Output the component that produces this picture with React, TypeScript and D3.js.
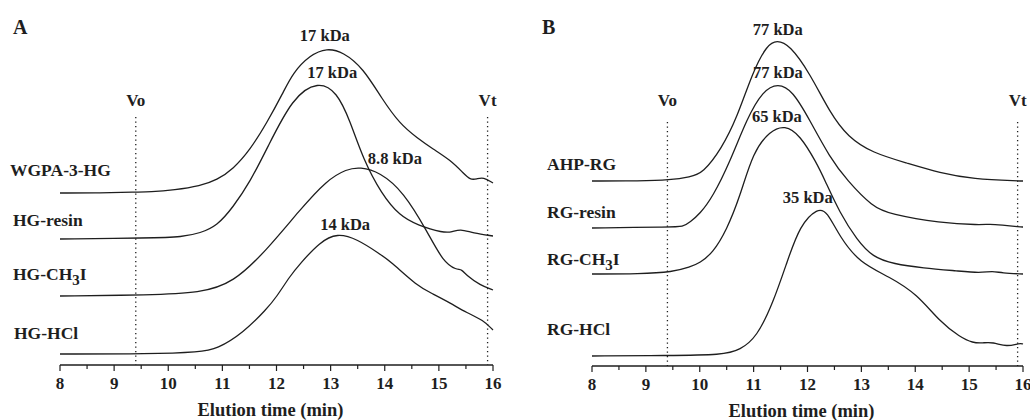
import React from "react";
import * as d3 from "d3";

// elution profiles, [time (min), detector response]
const wgpa3hg: [number, number][] = [
  [8, 0], [8.75, 0], [9.4, 1], [9.66, 1], [10.12, 3], [10.59, 7], [10.9, 13],
  [11.2, 24], [11.51, 43], [11.82, 70], [12.12, 100], [12.3, 120], [12.62, 138],
  [12.93, 145], [13.23, 141], [13.6, 125], [13.95, 94], [14.28, 69], [14.6, 55],
  [14.89, 44], [15.21, 33], [15.45, 20], [15.58, 13], [15.7, 14], [15.82, 16], [16, 10],
];
const hgResin: [number, number][] = [
  [8, 0], [9.66, 1], [10.27, 2], [10.59, 6], [10.9, 13], [11.2, 32], [11.51, 57],
  [11.82, 90], [12.3, 142], [12.77, 158], [13.12, 147], [13.36, 118], [13.6, 80],
  [13.94, 45], [14.28, 23], [14.6, 14], [15.08, 6], [15.25, 7], [15.39, 10],
  [15.63, 6], [16, 3],
];
const hgCH3I: [number, number][] = [
  [8, 0], [9.66, 1], [10.59, 3], [11.2, 13], [11.82, 46], [12.43, 86], [12.93, 116],
  [13.3, 127], [13.54, 129], [13.91, 124], [14.35, 104], [14.79, 64], [15.08, 34],
  [15.33, 26], [15.42, 27], [15.52, 20], [15.76, 11], [16, 6],
];
const hgHCl: [number, number][] = [
  [8, 0], [9.66, 0], [10.59, 2], [10.9, 5], [11.38, 21], [11.82, 45], [12.0, 57],
  [12.25, 78], [12.43, 90], [12.8, 112], [13.12, 121], [13.49, 115], [13.91, 100],
  [14.1, 93], [14.6, 68], [14.89, 60], [15.21, 51], [15.52, 41], [15.82, 34], [16, 24],
];

const ahpRG: [number, number][] = [
  [8, 0], [8.89, 0], [9.45, 1], [9.82, 4], [10.06, 8], [10.4, 32], [10.69, 63],
  [10.99, 110], [11.25, 136], [11.43, 141], [11.67, 136], [12.04, 108], [12.42, 68],
  [12.75, 44], [13.21, 28], [13.84, 18], [14.46, 8], [15.07, 2], [15.94, 0], [16, 0],
];
const rgResin: [number, number][] = [
  [8, 0], [9.45, 1], [9.69, 1], [9.82, 6], [10.0, 14], [10.24, 31], [10.56, 66],
  [10.88, 110], [11.17, 137], [11.45, 145], [11.73, 137], [12.04, 108], [12.42, 70],
  [12.73, 48], [13.21, 21], [13.53, 14], [14.46, 5], [15.2, 3], [15.38, 4],
  [15.6, 3], [15.94, 1], [16, 1],
];
const rgCH3I: [number, number][] = [
  [8, 0], [8.89, 0], [9.5, 2], [9.82, 7], [10.0, 11], [10.24, 21], [10.5, 44],
  [10.75, 78], [10.99, 122], [11.3, 143], [11.58, 149], [11.86, 139], [12.17, 111],
  [12.32, 94], [12.6, 61], [12.92, 34], [13.21, 17], [13.6, 10], [14.14, 6],
  [14.8, 3], [15.2, 1], [15.44, 3], [15.6, 1], [16, 0],
];
const rgHCl: [number, number][] = [
  [8, 0], [9.4, 0.5], [10.43, 1], [10.75, 6], [11.06, 19], [11.36, 53], [11.62, 94],
  [11.86, 131], [12.19, 148], [12.36, 145], [12.6, 119], [12.97, 93], [13.53, 79],
  [14.03, 62], [14.46, 34], [14.83, 19], [15.07, 13], [15.25, 13], [15.44, 14],
  [15.7, 9], [15.94, 13], [16, 12],
];

const aSeries = [wgpa3hg, hgResin, hgCH3I, hgHCl];
const aOffsets = [172, 126, 69, 11];
const aNames = ["WGPA-3-HG", "HG-resin", "HG-CH3I", "HG-HCl"];
const aPeaks = ["17 kDa", "17 kDa", "8.8 kDa", "14 kDa"];

const bSeries = [ahpRG, rgResin, rgCH3I, rgHCl];
const bOffsets = [185, 138, 92, 10];
const bNames = ["AHP-RG", "RG-resin", "RG-CH3I", "RG-HCl"];
const bPeaks = ["77 kDa", "77 kDa", "65 kDa", "35 kDa"];

const xTicks = [8, 9, 10, 11, 12, 13, 14, 15, 16];
const vo = 9.4;
const vt = 15.9;

const font = "'Liberation Serif', 'Times New Roman', serif";
const ink = "#1e1e1e";

function Label({ text, x, y, size }: { text: string; x: number; y: number; size: number }) {
  // CH3I gets a subscript 3
  const i = text.indexOf("CH3I");
  if (i < 0) {
    return (
      <text x={x} y={y} fontSize={size} fontWeight="bold" fontFamily={font} fill={ink}>
        {text}
      </text>
    );
  }
  return (
    <text x={x} y={y} fontSize={size} fontWeight="bold" fontFamily={font} fill={ink}>
      {text.slice(0, i + 2)}
      <tspan dy={5} fontSize={size * 0.85}>3</tspan>
      <tspan dy={-5}>I</tspan>
    </text>
  );
}

function Panel(props: {
  series: [number, number][][];
  offsets: number[];
  names: string[];
  peaks: string[];
  x0: number;
  x1: number;
  axisY: number;
  letter: string;
  letterX: number;
  nameX: number[];
  nameY: number[];
  peakDx: number[];
  peakDy: number[];
  dotTop: number;
}) {
  const { series, offsets, names, peaks, x0, x1, axisY } = props;
  const x = d3.scaleLinear().domain([8, 16]).range([x0, x1]);
  const y = d3.scaleLinear().domain([0, 340]).range([axisY, axisY - 340]);
  const minor = d3.range(8, 16.01, 0.5);

  return (
    <g>
      <text x={props.letterX} y={34} fontSize={20} fontWeight="bold" fontFamily={font} fill={ink}>
        {props.letter}
      </text>

      {[vo, vt].map((v, k) => (
        <g key={k}>
          <line
            x1={x(v)} x2={x(v)} y1={props.dotTop} y2={axisY}
            stroke={ink} strokeWidth={1.3} strokeDasharray="1.3 3.2"
          />
          <text
            x={x(v)} y={106} textAnchor="middle" fontSize={17}
            fontWeight="bold" fontFamily={font} fill={ink}
          >
            {k === 0 ? "Vo" : "Vt"}
          </text>
        </g>
      ))}

      {series.map((s, k) => {
        const line = d3
          .line<[number, number]>()
          .x((d) => x(d[0]))
          .y((d) => y(d[1] + offsets[k]))
          .curve(d3.curveBasis);
        const pk = s[d3.maxIndex(s, (d) => d[1])];
        return (
          <g key={k}>
            <path d={line(s) || ""} fill="none" stroke={ink} strokeWidth={1.3} />
            <text
              x={x(pk[0]) + props.peakDx[k]}
              y={y(pk[1] + offsets[k]) + props.peakDy[k]}
              textAnchor="middle" fontSize={16.5} fontWeight="bold"
              fontFamily={font} fill={ink}
            >
              {peaks[k]}
            </text>
            <Label text={names[k]} x={props.nameX[k]} y={props.nameY[k]} size={17.5} />
          </g>
        );
      })}

      <line x1={x(8)} x2={x(16)} y1={axisY} y2={axisY} stroke={ink} strokeWidth={1.3} />
      {minor.map((t) => (
        <line
          key={t}
          x1={x(t)} x2={x(t)} y1={axisY}
          y2={axisY + (Number.isInteger(t) ? 6 : 4)}
          stroke={ink} strokeWidth={1.2}
        />
      ))}
      {xTicks.map((t) => (
        <text
          key={t} x={x(t)} y={axisY + 24} textAnchor="middle" fontSize={17}
          fontWeight="bold" fontFamily={font} fill={ink}
        >
          {t}
        </text>
      ))}
      <text
        x={(x0 + x1) / 2 - 6} y={axisY + 51} textAnchor="middle" fontSize={18.5}
        fontWeight="bold" fontFamily={font} fill={ink}
      >
        Elution time (min)
      </text>
    </g>
  );
}

export default function App() {
  return (
    <svg
      width={1030}
      height={420}
      style={{ position: "absolute", left: 0, top: 0, background: "#fff" }}
    >
      <Panel
        series={aSeries} offsets={aOffsets} names={aNames} peaks={aPeaks}
        x0={60} x1={493} axisY={365} letter="A" letterX={13}
        nameX={[10, 13, 13, 14]} nameY={[176, 226, 280, 339]}
        peakDx={[-2, 14, 35, 8]} peakDy={[-7, -3, -3, -3]} dotTop={117}
      />
      <Panel
        series={bSeries} offsets={bOffsets} names={bNames} peaks={bPeaks}
        x0={592} x1={1023} axisY={366} letter="B" letterX={542}
        nameX={[547, 547, 547, 547]} nameY={[170, 218, 265, 335]}
        peakDx={[1, 0, -8, -10]} peakDy={[-5, -5, -3, -5]} dotTop={122}
      />
    </svg>
  );
}
